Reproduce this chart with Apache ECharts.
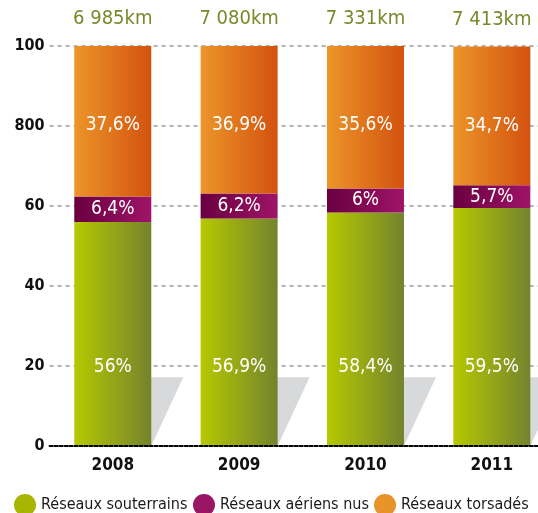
<!DOCTYPE html>
<html>
<head>
<meta charset="utf-8">
<script src="https://cdn.jsdelivr.net/npm/echarts@6/dist/echarts.min.js"></script>
<style>
  html, body { margin: 0; padding: 0; background: #fff; overflow: hidden; }
  #main { width: 555px; height: 513px; }
</style>
</head>
<body>
<div id="main"></div>
<script>
var years = ['2008', '2009', '2010', '2011'];
var souterrains = [56, 56.9, 58.4, 59.5];
var aeriensNus = [6.4, 6.2, 6, 5.7];
var torsades = [37.6, 36.9, 35.6, 34.7];
var souterrainsLbl = ['56%', '56,9%', '58,4%', '59,5%'];
var aeriensLbl = ['6,4%', '6,2%', '6%', '5,7%'];
var torsadesLbl = ['37,6%', '36,9%', '35,6%', '34,7%'];
var kmLabels = ['6 985km', '7 080km', '7 331km', '7 413km'];
var yTickLabels = ['0', '20', '40', '60', '800', '100'];
var shadowTop = [17.2, 17.2, 17.2, 17.2];

var FONT = "'Liberation Sans Narrow', 'DejaVu Sans Condensed', sans-serif";
var BAR_W = 77;

function grad(a, b) {
  return new echarts.graphic.LinearGradient(0, 0, 1, 0, [
    { offset: 0, color: a },
    { offset: 1, color: b }
  ]);
}

// the plot runs a bit past the right edge of the window, so the div is wider
var chart = echarts.init(document.getElementById('main'), null, { renderer: 'canvas' });

var legendText = { fontFamily: FONT, fontSize: 16, color: '#1a1a1a' };
function legendItem(name, color, left) {
  return {
    data: [{ name: name, itemStyle: { color: color } }],
    left: left, top: 489, icon: 'circle', itemWidth: 22, itemHeight: 22,
    textStyle: legendText
  };
}

var option = {
  animation: false,
  textStyle: { fontFamily: FONT },
  grid: { left: 49.6, right: 0, top: 46, bottom: 67 },
  legend: [
    legendItem('Réseaux souterrains', '#a7b400', 9),
    legendItem('Réseaux aériens nus', '#9a1563', 188),
    legendItem('Réseaux torsadés', '#e8922a', 369)
  ],
  xAxis: {
    type: 'category',
    data: years,
    axisTick: { show: false },
    axisLine: { lineStyle: { color: '#000', width: 2, type: [3, 2] } },
    axisLabel: { color: '#111', fontSize: 17, fontWeight: 'bold', margin: 11, fontFamily: FONT },
    z: 10
  },
  yAxis: {
    type: 'value',
    min: 0,
    max: 100,
    interval: 20,
    axisLine: { show: false },
    axisTick: { show: false },
    axisLabel: {
      color: '#111', fontSize: 16, fontWeight: 'bold', margin: 5, fontFamily: FONT,
      formatter: function (v) { return yTickLabels[v / 20]; }
    },
    splitLine: { lineStyle: { color: '#b4b4b4', width: 2, type: [4, 4] } }
  },
  series: [
    {
      type: 'custom',
      z: 1,
      silent: true,
      data: shadowTop.map(function (v, i) { return [i, v]; }),
      renderItem: function (params, api) {
        var top = api.coord([api.value(0), api.value(1)]);
        var bot = api.coord([api.value(0), 0]);
        var right = top[0] + BAR_W / 2;
        return {
          type: 'polygon',
          shape: { points: [[right - 10, top[1]], [right + 32, top[1]], [right, bot[1]], [right - 10, bot[1]]] },
          style: { fill: '#d8d9da' }
        };
      }
    },
    {
      name: 'Réseaux souterrains',
      type: 'bar',
      stack: 'total',
      barWidth: BAR_W,
      z: 3,
      data: souterrains,
      itemStyle: { color: grad('#b6c900', '#74832d') },
      label: {
        show: true, position: 'insideBottom', distance: 69,
        color: '#fff', fontSize: 19, fontFamily: FONT,
        formatter: function (p) { return souterrainsLbl[p.dataIndex]; }
      }
    },
    {
      name: 'Réseaux aériens nus',
      type: 'bar',
      stack: 'total',
      barWidth: BAR_W,
      z: 3,
      data: aeriensNus,
      itemStyle: { color: grad('#690040', '#9f1468') },
      label: {
        show: true, position: 'inside',
        color: '#fff', fontSize: 19, fontFamily: FONT,
        formatter: function (p) { return aeriensLbl[p.dataIndex]; }
      }
    },
    {
      name: 'Réseaux torsadés',
      type: 'bar',
      stack: 'total',
      barWidth: BAR_W,
      z: 3,
      data: torsades,
      itemStyle: { color: grad('#ec9529', '#d3520f') },
      label: {
        show: true, position: 'insideTop', distance: 70,
        color: '#fff', fontSize: 19, fontFamily: FONT,
        formatter: function (p) { return torsadesLbl[p.dataIndex]; }
      }
    },
    {
      type: 'bar',
      stack: 'total',
      barWidth: BAR_W,
      silent: true,
      data: [0, 0, 0, 0],
      itemStyle: { color: 'transparent' },
      label: {
        show: true, position: 'top', distance: 17,
        color: '#788a2a', fontSize: 20, fontFamily: FONT,
        formatter: function (p) { return kmLabels[p.dataIndex]; }
      }
    }
  ]
};

chart.setOption(option);
</script>
</body>
</html>
